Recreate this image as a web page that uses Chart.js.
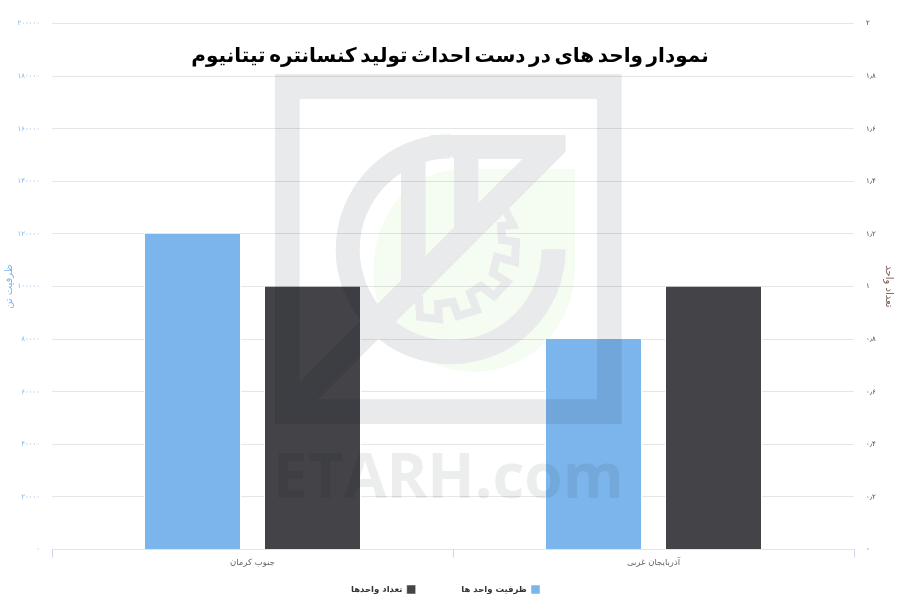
<!DOCTYPE html>
<html lang="fa"><head><meta charset="utf-8">
<style>html,body{margin:0;padding:0;background:#fff}#wrap{width:900px;height:600px}</style>
<script src="https://cdn.jsdelivr.net/npm/chart.js@4"></script>
</head><body><div id="wrap"><canvas id="c" width="900" height="600"></canvas></div>
<script>
const categories = ['جنوب کرمان', 'آذربایجان غربی'];
const capacityName = 'ظرفیت واحد ها';
const unitsName = 'تعداد واحدها';
const capacityValues = [120000, 80000];
const unitsValues = [1, 1];
const leftTickLabels = ['۰','۲۰۰۰۰','۴۰۰۰۰','۶۰۰۰۰','۸۰۰۰۰','۱۰۰۰۰۰','۱۲۰۰۰۰','۱۴۰۰۰۰','۱۶۰۰۰۰','۱۸۰۰۰۰','۲۰۰۰۰۰'];
const rightTickLabels = ['۰','۰٫۲','۰٫۴','۰٫۶','۰٫۸','۱','۱٫۲','۱٫۴','۱٫۶','۱٫۸','۲'];
const titleText = 'نمودار واحد های در دست احداث تولید کنسانتره تیتانیوم';
const leftAxisTitle = 'ظرفیت تن';
const rightAxisTitle = 'تعداد واحد';
const watermarkText = 'ETARH.com';
const FONT = '"DejaVu Sans", "Noto Sans", sans-serif';

// Decorative watermark outline (page-pixel gear path, not data)
const gearPath = [[505,209],[513,225],[501,226],[502,240],[516,242],[515,262],[497,257],[493,273],[507,282],[494,296],[481,286],[470,293],[477,310],[458,316],[453,302],[438,304],[439,319],[420,317],[419,300],[412,300]];
const watermark = {
  id: 'watermark',
  afterDraw(chart) {
    const off = document.createElement('canvas');
    off.width = 900; off.height = 600;
    const ctx = off.getContext('2d');
    const X = x => 260 + x / 3, Y = y => 60 + y / 3;
    const poly = pts => { pts.forEach((p, i) => i ? ctx.lineTo(X(p[0]), Y(p[1])) : ctx.moveTo(X(p[0]), Y(p[1]))); ctx.closePath(); };
    // pale shield
    ctx.fillStyle = '#f5fcf2';
    ctx.beginPath();
    ctx.moveTo(X(945), Y(327));
    ctx.lineTo(X(945), Y(620));
    ctx.bezierCurveTo(X(945), Y(800), X(810), Y(935), X(640), Y(935));
    ctx.bezierCurveTo(X(470), Y(935), X(340), Y(800), X(340), Y(640));
    ctx.bezierCurveTo(X(340), Y(470), X(440), Y(327), X(620), Y(327));
    ctx.closePath();
    ctx.fill();
    // grey logo
    ctx.fillStyle = '#e9eaec';
    ctx.strokeStyle = '#e9eaec';
    ctx.beginPath();
    poly([[45,42],[1085,42],[1085,1092],[45,1092]]);
    poly([[119,117],[119,965],[175,1018],[1011,1018],[1011,117]]);
    const cx = X(572), cy = Y(568);
    const a0 = 0, a1 = Math.PI * 1.5;
    ctx.moveTo(cx + 115, cy);
    ctx.arc(cx, cy, 115, a0, a1, false);
    ctx.arc(cx, cy, 91, a1, a0, true);
    ctx.closePath();
    ctx.fill('nonzero');
    [
      [[510,225],[582,225],[917,225],[917,275],[895,297],[582,297]],
      [[787,297],[917,275],[175,1018],[119,965]],
      [[423,270],[497,270],[497,600],[423,670]],
      [[582,270],[655,270],[655,430],[582,505]]
    ].forEach(p => { ctx.beginPath(); poly(p); ctx.fill(); });
    // gear stripe
    ctx.lineWidth = 8;
    ctx.lineJoin = 'miter';
    ctx.beginPath();
    gearPath.forEach((p, i) => i ? ctx.lineTo(p[0], p[1]) : ctx.moveTo(p[0], p[1]));
    ctx.stroke();
    // site name
    ctx.fillStyle = '#eceded';
    ctx.font = 'bold 62px "Open Sans", "DejaVu Sans", sans-serif';
    ctx.textAlign = 'left';
    ctx.textBaseline = 'alphabetic';
    ctx.fillText(watermarkText, 273, 498);
    // lay over the whole chart
    const c = chart.ctx;
    c.save();
    c.globalCompositeOperation = 'multiply';
    c.drawImage(off, 0, 0);
    c.restore();
  }
};

new Chart(document.getElementById('c'), {
  type: 'bar',
  plugins: [watermark, {
    id: 'white',
    beforeDraw(chart) {
      const c = chart.ctx; c.save(); c.fillStyle = '#fff'; c.fillRect(0, 0, 900, 600); c.restore();
    },
    afterLayout(chart) {
      const t = chart.titleBlock, l = chart.legend;
      if (t && !t._tightened) {
        const d = t.draw;
        t.draw = function () { const c = chart.ctx; c.save(); c.wordSpacing = '-3.4px'; d.call(this); c.restore(); };
        t._tightened = true;
      }
      if (l && !l._shifted) {
        const d = l.draw;
        l.draw = function () { const c = chart.ctx; c.save(); c.translate(-4.5, 0); d.call(this); c.restore(); };
        l._shifted = true;
      }
    }
  }],
  data: {
    labels: categories,
    datasets: [
      { label: capacityName, data: capacityValues, yAxisID: 'y', backgroundColor: '#7cb5ec', borderColor: '#ffffff', borderWidth: { left: 1, right: 1, top: 0, bottom: 0 }, categoryPercentage: 0.5985, barPercentage: 0.8083 },
      { label: unitsName, data: unitsValues, yAxisID: 'y1', backgroundColor: '#434348', borderColor: '#ffffff', borderWidth: { left: 1, right: 1, top: 0, bottom: 0 }, categoryPercentage: 0.5985, barPercentage: 0.8083 }
    ]
  },
  options: {
    responsive: false,
    animation: false,
    devicePixelRatio: 1,
    layout: { padding: { top: 23.5, left: 0, right: 0, bottom: -4 } },
    plugins: {
      tooltip: { enabled: false },
      title: { display: true, text: titleText, color: '#000', font: { family: FONT, size: 20, weight: 'bold', lineHeight: 1.2 }, padding: { top: 21.5, bottom: -45.5 } },
      legend: {
        position: 'bottom', rtl: true, textDirection: 'rtl',
        labels: {
          boxWidth: 9, boxHeight: 9, padding: 10, color: '#333',
          font: { family: FONT, size: 8.5, weight: 'bold' },
          generateLabels(chart) {
            const items = Chart.defaults.plugins.legend.labels.generateLabels(chart);
            items[0].text += '\u00A0'.repeat(12);
            return items;
          }
        }
      }
    },
    scales: {
      x: {
        afterFit(s) { s.height = 25.5; },
        grid: { offset: true, drawOnChartArea: false, tickColor: '#ccd6eb', tickLength: 8 },
        border: { color: '#e3e3e8' },
        ticks: { color: '#666', font: { family: FONT, size: 8.5 }, padding: 0 }
      },
      y: {
        position: 'left', min: 0, max: 200000,
        afterFit(s) { s.width = 52; },
        grid: { color: '#e6e6e6', drawTicks: false },
        border: { display: false },
        title: { display: true, text: leftAxisTitle, color: '#7cb5ec', font: { family: FONT, size: 10 }, padding: { top: 3, bottom: 0 } },
        ticks: { stepSize: 20000, padding: 12, color: '#7cb5ec', font: { family: FONT, size: 7 }, callback: (v, i) => leftTickLabels[i] }
      },
      y1: {
        position: 'right', min: 0, max: 2,
        afterFit(s) { s.width = 46; },
        grid: { drawOnChartArea: false, drawTicks: false },
        border: { display: false },
        title: { display: true, text: rightAxisTitle, color: '#7a5c52', font: { family: FONT, size: 10 }, padding: { top: 5, bottom: 0 } },
        ticks: { stepSize: 0.2, padding: 12, color: '#434348', font: { family: FONT, size: 7 }, callback: (v, i) => rightTickLabels[i] }
      }
    }
  }
});
</script></body></html>
